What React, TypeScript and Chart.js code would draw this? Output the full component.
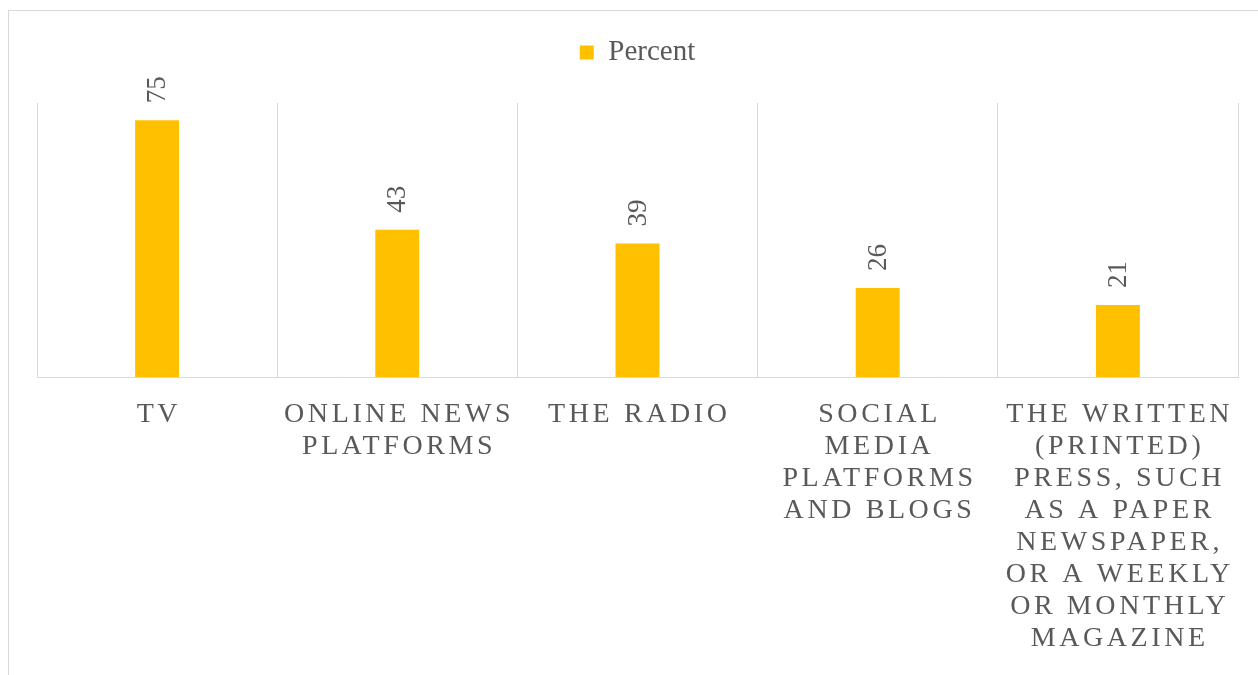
import React, { useEffect, useRef } from "react";
import { Chart, registerables } from "chart.js";

Chart.register(...registerables);

const categories: string[][] = [
  ["TV"],
  ["ONLINE NEWS", "PLATFORMS"],
  ["THE RADIO"],
  ["SOCIAL", "MEDIA", "PLATFORMS", "AND BLOGS"],
  ["THE WRITTEN", "(PRINTED)", "PRESS, SUCH", "AS A PAPER", "NEWSPAPER,", "OR A WEEKLY", "OR MONTHLY", "MAGAZINE"],
];
const percentValues: number[] = [75, 43, 39, 26, 21];
const seriesName = "Percent";

const FONT = "'Liberation Serif', 'Times New Roman', Times, serif";
const TEXT = "#595959";
const GRID = "#d9d9d9";
const BAR = "#FFC000";

const legendGapPlugin = {
  id: "legendGap",
  afterInit(chart: any) {
    const lg = chart.legend;
    if (!lg || lg.__patched) return;
    const orig = lg.fit.bind(lg);
    lg.fit = function () {
      orig();
      this.height += 26;
    };
    lg.__patched = true;
  },
};

const valueLabelPlugin = {
  id: "valueLabels",
  afterDatasetsDraw(chart: any) {
    const ctx = chart.ctx;
    const meta = chart.getDatasetMeta(0);
    const data = chart.data.datasets[0].data;
    ctx.save();
    ctx.fillStyle = TEXT;
    ctx.font = `27px ${FONT}`;
    ctx.textAlign = "left";
    ctx.textBaseline = "middle";
    meta.data.forEach((bar: any, i: number) => {
      ctx.save();
      ctx.translate(bar.x, bar.y - 17);
      ctx.rotate(-Math.PI / 2);
      ctx.fillText(String(data[i]), 0, 1);
      ctx.restore();
    });
    ctx.restore();
  },
};

const categoryLabelPlugin = {
  id: "categoryLabels",
  afterDraw(chart: any) {
    const ctx = chart.ctx;
    const xs = chart.scales.x;
    const ls = 3.6;
    ctx.save();
    ctx.fillStyle = TEXT;
    ctx.font = `28px ${FONT}`;
    ctx.textAlign = "center";
    ctx.textBaseline = "middle";
    (ctx as any).letterSpacing = `${ls}px`;
    const labels: string[][] = chart.data.labels;
    labels.forEach((lines, i) => {
      const x = xs.getPixelForValue(i) + ls / 2;
      lines.forEach((line, j) => {
        ctx.fillText(line, x, xs.top + 38 + j * 32);
      });
    });
    ctx.restore();
  },
};

export default function App() {
  const ref = useRef<HTMLCanvasElement>(null);
  useEffect(() => {
    if (!ref.current) return;
    const chart = new Chart(ref.current, {
      type: "bar",
      data: {
        labels: categories as any,
        datasets: [
          {
            label: seriesName,
            data: percentValues,
            backgroundColor: BAR,
            borderWidth: 0,
            categoryPercentage: 1,
            barPercentage: 0.183,
          },
        ],
      },
      options: {
        animation: false,
        responsive: false,
        events: [],
        layout: { padding: { left: 37, right: 20, top: 2, bottom: 298 } },
        plugins: {
          legend: {
            display: true,
            position: "top",
            labels: {
              color: TEXT,
              font: { family: FONT, size: 29 },
              boxWidth: 14,
              boxHeight: 14,
              padding: 36,
            },
          },
          tooltip: { enabled: false },
        },
        scales: {
          x: {
            offset: true,
            grid: { display: true, color: GRID, lineWidth: 1, drawTicks: false, offset: true },
            border: { display: true, color: GRID, width: 1 },
            ticks: { display: false },
          },
          y: {
            display: false,
            min: 0,
            max: 80,
            grid: { display: false },
          },
        },
      },
      plugins: [legendGapPlugin, valueLabelPlugin, categoryLabelPlugin],
    });
    return () => chart.destroy();
  }, []);

  return (
    <div style={{ position: "fixed", left: 0, top: 0, width: 1258, height: 675, overflow: "hidden", background: "#fff" }}>
      <div
        style={{
          position: "absolute",
          left: 8,
          top: 10,
          width: 1260,
          height: 680,
          borderTop: `1px solid ${GRID}`,
          borderLeft: `1px solid ${GRID}`,
          boxSizing: "border-box",
        }}
      />
      <canvas ref={ref} width={1258} height={675} style={{ position: "absolute", left: 0, top: 0, width: 1258, height: 675 }} />
    </div>
  );
}
